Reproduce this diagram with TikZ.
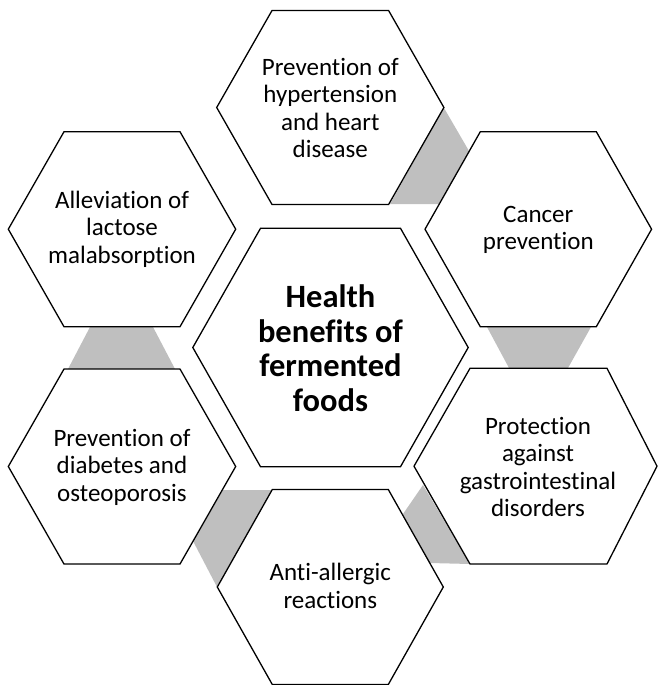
\documentclass[tikz,border=0pt]{standalone}
\usepackage{fontspec}
\setmainfont{Carlito}[Ligatures=NoCommon]
\definecolor{linkgray}{RGB}{191,191,191}
% hexagon with flat top/bottom: centre (#1,#2), half width #3, half top edge #4, half height #5
\newcommand{\hexcell}[5]{%
  \draw[cell] (#1-#3,#2) -- (#1-#4,#2-#5) -- (#1+#4,#2-#5) -- (#1+#3,#2)
    -- (#1+#4,#2+#5) -- (#1-#4,#2+#5) -- cycle;}
\begin{document}
\begin{tikzpicture}[x=1pt,y=-1pt,
  cell/.style={draw=black,fill=white,line width=1.3pt,line join=miter},
  link/.style={fill=linkgray,draw=none},
  label/.style={align=center,inner sep=0pt,text=black,
    font=\fontsize{25}{27.5}\selectfont},
  hub/.style={align=center,inner sep=0pt,text=black,
    font=\fontsize{32.5}{34.5}\selectfont\bfseries}]
\useasboundingbox (0,0) rectangle (657,685);

% grey links between neighbouring cells
\fill[link] (444,108) -- (469,151) -- (439,204) -- (390,204) -- cycle;
\fill[link] (487,327) -- (591,327) -- (568,368) -- (509,368) -- cycle;
\fill[link] (90,327) -- (153,327) -- (175,369) -- (68,369) -- cycle;
\fill[link] (217,587) -- (193,541) -- (223,490) -- (273,490) -- cycle;
\fill[link] (423,485) -- (403,514) -- (430,563) -- (470,564) -- cycle;

% cells
\hexcell{330.3}{107.5}{113.6}{58.3}{97}
\hexcell{538.3}{229.2}{113.3}{58}{97.5}
\hexcell{122}{229.2}{113.7}{58}{97.5}
\hexcell{122}{466.5}{113.7}{58}{97.5}
\hexcell{330.3}{587}{113}{58}{97.5}
\hexcell{330.5}{347.5}{137.7}{70}{119.2}
\draw[cell] (414,466.2) -- (470,368.3) -- (607,368.3) -- (657,466.2)
  -- (607,564) -- (470,564) -- cycle;

% texts
\node[hub] (hub) at (330.5,348) {Health\\benefits of\\fermented\\foods};
\node[label] (heart) at (330.3,108) {Prevention of\\hypertension\\and heart\\disease};
\node[label] (cancer) at (538.3,230) {Cancer\\prevention};
\node[label] (lactose) at (122,229) {Alleviation of\\lactose\\malabsorption};
\node[label] (diabetes) at (122,467) {Prevention of\\diabetes and\\osteoporosis};
\node[label] (gut) at (538,467) {Protection\\against\\gastrointestinal\\disorders};
\node[label] (allergy) at (330.3,586) {Anti-allergic\\reactions};
\end{tikzpicture}
\end{document}
